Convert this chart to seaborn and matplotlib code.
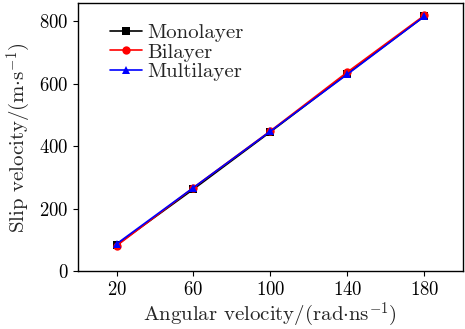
import matplotlib
matplotlib.use("Agg")
import matplotlib.pyplot as plt
import seaborn as sns
import pandas as pd

angular = [20, 60, 100, 140, 180]
mono = [85, 263, 446, 632, 815]
bi = [82, 268, 449, 637, 818]
multi = [88, 268, 448, 630, 815]
series_names = ["Monolayer", "Bilayer", "Multilayer"]

sns.set_theme(style="ticks")
plt.rcParams['font.family'] = ['cmr10']
plt.rcParams['mathtext.fontset'] = 'cm'
plt.rcParams['axes.formatter.use_mathtext'] = True

rows = []
for name, vals in zip(series_names, [mono, bi, multi]):
    for x, y in zip(angular, vals):
        rows.append({"x": x, "y": y, "series": name})
df = pd.DataFrame(rows)

fig, ax = plt.subplots(figsize=(4.65, 3.29), dpi=100)
palette = {"Monolayer": "black", "Bilayer": "red", "Multilayer": "blue"}
markers = {"Monolayer": "s", "Bilayer": "o", "Multilayer": "^"}
sns.lineplot(data=df, x="x", y="y", hue="series", style="series",
             palette=palette, markers=markers, dashes=False,
             markersize=6, linewidth=1.2, markeredgewidth=0, ax=ax)

ax.set_xlim(0, 200)
ax.set_ylim(0, 857)
ax.set_xticks(angular)
ax.set_yticks([0, 200, 400, 600, 800])
ax.tick_params(direction="out", labelsize=13.5, length=3.5, width=0.8, colors="black")
for s in ax.spines.values():
    s.set_color("black")
    s.set_linewidth(1.0)
ax.set_xlabel(r"Angular velocity/(rad$\cdot$ns$^{-1}$)", fontsize=15, labelpad=1)
ax.set_ylabel(r"Slip velocity/(m$\cdot$s$^{-1}$)", fontsize=15)
leg = ax.legend(loc="upper left", frameon=False, fontsize=15, title=None,
                handlelength=1.55, handletextpad=0.25, borderaxespad=0,
                borderpad=0, labelspacing=0.05, bbox_to_anchor=(0.083, 0.925))
fig.subplots_adjust(left=0.168, right=0.995, top=0.99, bottom=0.175)
fig.savefig("out.png", dpi=100)
